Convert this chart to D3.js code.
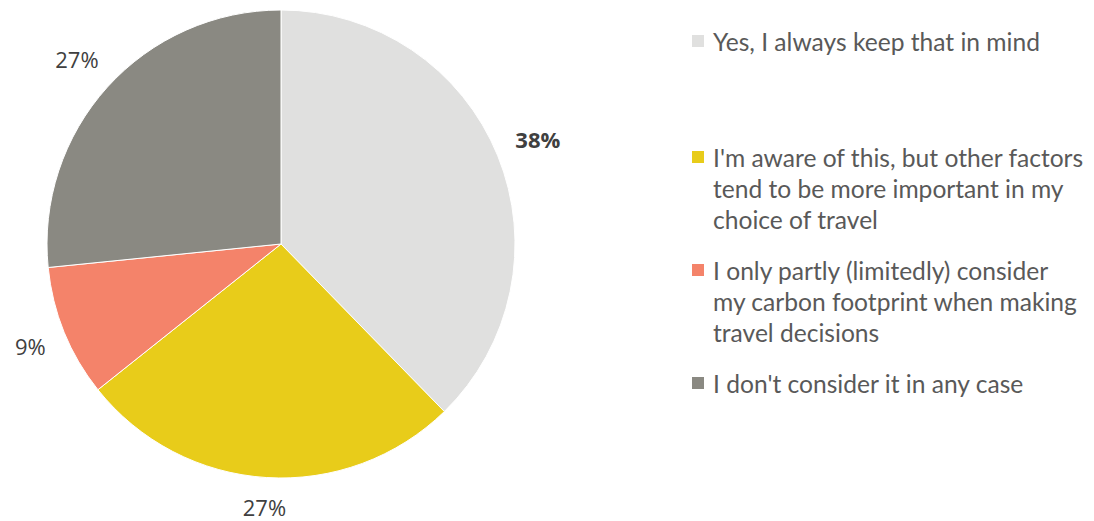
<!DOCTYPE html>
<html>
<head>
<meta charset="utf-8">
<script src="https://cdn.jsdelivr.net/npm/d3@7"></script>
<style>
  html, body { margin: 0; padding: 0; background: #ffffff; }
  svg { display: block; }
</style>
</head>
<body>
<div id="chart"></div>
<script>
const categories = [
  "Yes, I always keep that in mind",
  "I'm aware of this, but other factors tend to be more important in my choice of travel",
  "I only partly (limitedly) consider my carbon footprint when making travel decisions",
  "I don't consider it in any case"
];
const legendLines = [
  ["Yes, I always keep that in mind"],
  ["I'm aware of this, but other factors", "tend to be more important in my", "choice of travel"],
  ["I only partly (limitedly) consider", "my carbon footprint when making", "travel decisions"],
  ["I don't consider it in any case"]
];
const values = [37.7, 26.6, 9.1, 26.6];
const labels = ["38%", "27%", "9%", "27%"];
const colors = ["#e0e0df", "#e8cc1a", "#f4836a", "#8a8982"];
const boldLabel = [true, false, false, false];

const W = 1094, H = 521;
const cx = 281, cy = 244, R = 234, gap = 19;

const svg = d3.select("#chart").append("svg")
  .attr("width", W).attr("height", H);

const pie = d3.pie().sort(null).value(d => d);
const arcs = pie(values);
const arc = d3.arc().innerRadius(0).outerRadius(R);

const g = svg.append("g").attr("transform", `translate(${cx},${cy})`);
g.selectAll("path.slice").data(arcs).enter().append("path")
  .attr("class", "slice")
  .attr("d", arc)
  .attr("fill", (d, i) => colors[i])
  .attr("stroke", "#ffffff")
  .attr("stroke-width", 1);

const pct = g.selectAll("text.pct").data(arcs).enter().append("text")
  .attr("class", "pct")
  .attr("text-anchor", "middle")
  .attr("dominant-baseline", "central")
  .attr("font-family", "'Open Sans', sans-serif")
  .attr("font-size", 22)
  .attr("font-weight", (d, i) => boldLabel[i] ? 700 : 400)
  .attr("fill", "#404040")
  .text((d, i) => labels[i]);

pct.each(function(d) {
  const bb = this.getBBox();
  const a = (d.startAngle + d.endAngle) / 2;
  const sx = Math.sin(a), sy = -Math.cos(a);
  const ext = Math.abs(sx) * bb.width / 2 + Math.abs(sy) * bb.height / 2 * 0.6;
  const r = R + gap + ext;
  d3.select(this).attr("transform", `translate(${sx * r},${sy * r})`);
});

// Legend
const legendX = 692, textX = 713;
const itemTops = [41, 157, 270, 383];
const lineH = 31;
const lg = svg.append("g");
categories.forEach((c, i) => {
  const y0 = itemTops[i];
  lg.append("rect")
    .attr("x", legendX).attr("y", y0 - 6)
    .attr("width", 12).attr("height", 12)
    .attr("fill", colors[i]);
  const t = lg.append("text")
    .attr("font-family", "Lato, 'Noto Sans', sans-serif")
    .attr("font-size", 24.6)
    .attr("fill", "#595959");
  legendLines[i].forEach((ln, j) => {
    t.append("tspan")
      .attr("x", textX)
      .attr("y", y0 + j * lineH)
      .attr("dominant-baseline", "central")
      .text(ln);
  });
});
</script>
</body>
</html>
